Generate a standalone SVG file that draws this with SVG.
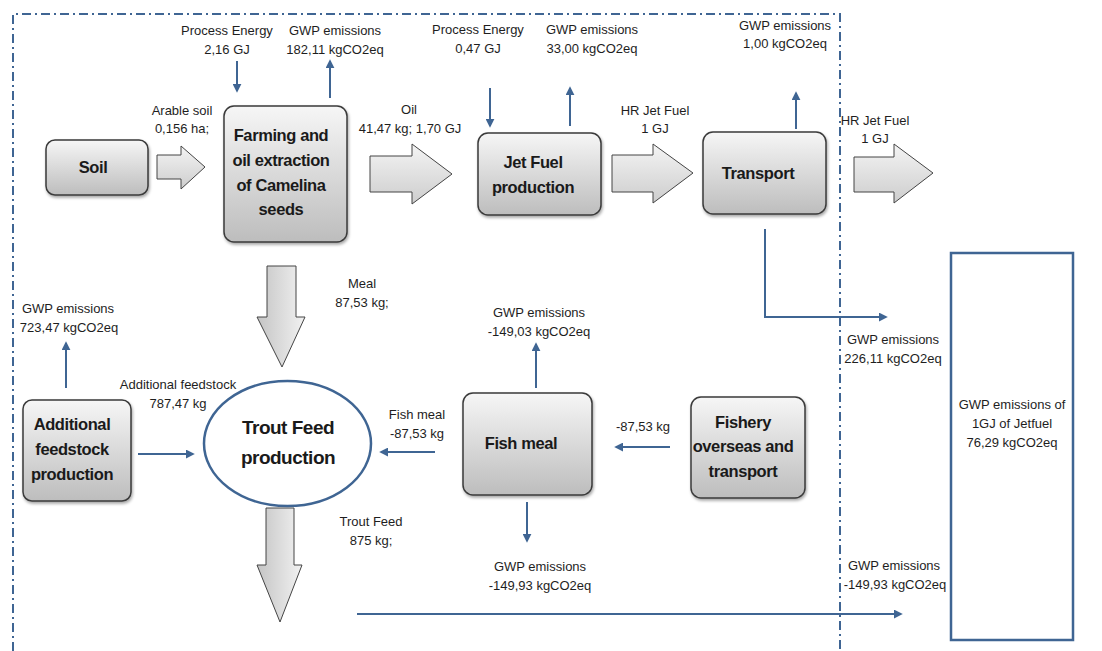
<svg xmlns="http://www.w3.org/2000/svg" width="1102" height="651" viewBox="0 0 1102 651">
  <defs>
    <linearGradient id="boxFill" x1="0" y1="0" x2="0" y2="1">
      <stop offset="0" stop-color="#f6f6f6"/>
      <stop offset="1" stop-color="#bdbdbd"/>
    </linearGradient>
    <linearGradient id="arrowFillH" x1="0" y1="0" x2="0" y2="1">
      <stop offset="0" stop-color="#f4f4f4"/>
      <stop offset="1" stop-color="#cdcdcd"/>
    </linearGradient>
    <linearGradient id="arrowFillV" x1="0" y1="0" x2="1" y2="0">
      <stop offset="0" stop-color="#c4c4c4"/>
      <stop offset="1" stop-color="#f2f2f2"/>
    </linearGradient>
    <filter id="shadow" x="-10%" y="-10%" width="125%" height="125%">
      <feDropShadow dx="1" dy="2" stdDeviation="1.5" flood-color="#000" flood-opacity="0.35"/>
    </filter>
    <marker id="head" viewBox="0 0 10 10" refX="8" refY="5" markerWidth="9" markerHeight="9" markerUnits="userSpaceOnUse" orient="auto">
      <path d="M0,0 L10,5 L0,10 z" fill="#3f6593"/>
    </marker>
    <style>
      .lbl { font-family: "Liberation Sans", Arial, sans-serif; font-size: 13px; fill: #1e1e1e; text-anchor: middle; }
      .box-t { font-family: "Liberation Sans", Arial, sans-serif; font-size: 16.5px; font-weight: bold; letter-spacing: -0.4px; fill: #1a1a1a; text-anchor: middle; }
      .big-t { font-family: "Liberation Sans", Arial, sans-serif; font-size: 19px; font-weight: bold; letter-spacing: -0.5px; fill: #1a1a1a; text-anchor: middle; }
      .box { fill: url(#boxFill); stroke: #3a3a3a; stroke-width: 1.5; filter: url(#shadow); }
      .blk-h { fill: url(#arrowFillH); stroke: #444; stroke-width: 1; }
      .blk-v { fill: url(#arrowFillV); stroke: #444; stroke-width: 1; }
      .flow { fill: none; stroke: #3f6593; stroke-width: 2; marker-end: url(#head); }
      .boundary { fill: none; stroke: #3f6593; stroke-width: 2; stroke-dasharray: 9 4 2 4; }
      .result { fill: #ffffff; stroke: #3f6593; stroke-width: 2.5; }
    </style>
  </defs>

  <rect width="1102" height="651" fill="#ffffff"/>

  <!-- system boundary (dash-dot, open at the bottom) -->
  <path class="boundary" d="M13,651 V14 H840 V651"/>

  <!-- connectors: block arrows and emission/energy flows -->
  <g id="connectors">
    <!-- block arrows for material flows -->
    <polygon class="blk-h" points="157,155 181,155 181,146 205,167 181,189 181,179 157,179"/>
    <polygon class="blk-h" points="370,156 412,156 412,144 452,174 412,204 412,192 370,192"/>
    <polygon class="blk-h" points="612,155 653,155 653,144 693,173 653,203 653,192 612,192"/>
    <polygon class="blk-h" points="854,157 894,157 894,144 933,173 894,203 894,192 854,192"/>
    <polygon class="blk-v" points="267,266 296,266 296,317 305,317 282,367 257,317 267,317"/>
    <polygon class="blk-v" points="266,508 294,508 294,565 302,565 280,622 257,565 266,565"/>

    <!-- energy inputs -->
    <line class="flow" x1="237" y1="61" x2="237" y2="91"/>
    <line class="flow" x1="490" y1="88" x2="490" y2="126"/>

    <!-- emission outputs -->
    <line class="flow" x1="330" y1="98" x2="330" y2="61"/>
    <line class="flow" x1="570" y1="126" x2="570" y2="88"/>
    <line class="flow" x1="796" y1="129" x2="796" y2="93"/>
    <line class="flow" x1="66" y1="388" x2="66" y2="343"/>
    <line class="flow" x1="536" y1="388" x2="536" y2="344"/>
    <line class="flow" x1="527" y1="502" x2="527" y2="541"/>

    <!-- feed flows -->
    <line class="flow" x1="138" y1="454" x2="193" y2="454"/>
    <line class="flow" x1="435" y1="452" x2="381" y2="452"/>
    <line class="flow" x1="670" y1="447" x2="616" y2="447"/>

    <!-- totals towards the result box -->
    <path class="flow" d="M765,229 V317 H886"/>
    <line class="flow" x1="357" y1="614" x2="901" y2="614"/>
  </g>

  <!-- process nodes -->
  <g id="soil">
    <rect class="box" x="46" y="140" width="102" height="55" rx="9"/>
    <text class="box-t" x="93" y="173">Soil</text>
  </g>

  <g id="farming">
    <rect class="box" x="224" y="106" width="123" height="136" rx="10"/>
    <text class="box-t" x="281" y="141">Farming and</text>
    <text class="box-t" x="281" y="166">oil extraction</text>
    <text class="box-t" x="281" y="191">of Camelina</text>
    <text class="box-t" x="281" y="215">seeds</text>
  </g>

  <g id="jetfuel">
    <rect class="box" x="478" y="133" width="123" height="82" rx="10"/>
    <text class="box-t" x="533" y="168">Jet Fuel</text>
    <text class="box-t" x="533" y="193">production</text>
  </g>

  <g id="transport">
    <rect class="box" x="703" y="132" width="123" height="82" rx="10"/>
    <text class="box-t" x="758" y="179">Transport</text>
  </g>

  <g id="additional">
    <rect class="box" x="23" y="400" width="108" height="101" rx="9"/>
    <text class="box-t" x="72" y="430">Additional</text>
    <text class="box-t" x="72" y="455">feedstock</text>
    <text class="box-t" x="72" y="480">production</text>
  </g>

  <g id="troutfeed">
    <ellipse cx="287.5" cy="443.5" rx="83.5" ry="62.5" fill="#ffffff" stroke="#3f6593" stroke-width="2.5"/>
    <text class="big-t" x="288" y="434">Trout Feed</text>
    <text class="big-t" x="288" y="464">production</text>
  </g>

  <g id="fishmeal">
    <rect class="box" x="463" y="393" width="129" height="102" rx="10"/>
    <text class="box-t" x="521" y="449">Fish meal</text>
  </g>

  <g id="fishery">
    <rect class="box" x="691" y="397" width="114" height="101" rx="10"/>
    <text class="box-t" x="743" y="428">Fishery</text>
    <text class="box-t" x="743" y="452">overseas and</text>
    <text class="box-t" x="743" y="477">transport</text>
  </g>

  <g id="result">
    <rect class="result" x="951" y="253" width="122" height="387"/>
    <text class="lbl" x="1012" y="408.5">GWP emissions of</text>
    <text class="lbl" x="1012" y="427.5">1GJ of Jetfuel</text>
    <text class="lbl" x="1012" y="446.5">76,29 kgCO2eq</text>
  </g>

  <!-- flow labels -->
  <g id="labels">
    <text class="lbl" x="227" y="34.5">Process Energy</text>
    <text class="lbl" x="227" y="53.5">2,16 GJ</text>
    <text class="lbl" x="335" y="34.5">GWP emissions</text>
    <text class="lbl" x="335" y="53.5">182,11 kgCO2eq</text>
    <text class="lbl" x="182" y="114.5">Arable soil</text>
    <text class="lbl" x="182" y="133">0,156 ha;</text>

    <text class="lbl" x="478" y="34">Process Energy</text>
    <text class="lbl" x="478" y="53">0,47 GJ</text>
    <text class="lbl" x="592" y="34">GWP emissions</text>
    <text class="lbl" x="592" y="53">33,00 kgCO2eq</text>
    <text class="lbl" x="409" y="113.5">Oil</text>
    <text class="lbl" x="410" y="132.5">41,47 kg; 1,70 GJ</text>
    <text class="lbl" x="655" y="114.5">HR Jet Fuel</text>
    <text class="lbl" x="655" y="133">1 GJ</text>

    <text class="lbl" x="785" y="29.5">GWP emissions</text>
    <text class="lbl" x="785" y="48">1,00 kgCO2eq</text>
    <text class="lbl" x="875" y="124.5">HR Jet Fuel</text>
    <text class="lbl" x="875" y="143">1 GJ</text>

    <text class="lbl" x="362" y="287.5">Meal</text>
    <text class="lbl" x="362" y="306.5">87,53 kg;</text>
    <text class="lbl" x="68" y="312.5">GWP emissions</text>
    <text class="lbl" x="69" y="332">723,47 kgCO2eq</text>
    <text class="lbl" x="178" y="388.5">Additional feedstock</text>
    <text class="lbl" x="178" y="407.5">787,47 kg</text>
    <text class="lbl" x="417" y="418.5">Fish meal</text>
    <text class="lbl" x="417" y="437.5">-87,53 kg</text>
    <text class="lbl" x="539" y="316.5">GWP emissions</text>
    <text class="lbl" x="539" y="336">-149,03 kgCO2eq</text>
    <text class="lbl" x="643" y="430.5">-87,53 kg</text>

    <text class="lbl" x="371" y="525.5">Trout Feed</text>
    <text class="lbl" x="371" y="544.5">875 kg;</text>
    <text class="lbl" x="540" y="570.5">GWP emissions</text>
    <text class="lbl" x="540" y="589.5">-149,93 kgCO2eq</text>

    <text class="lbl" x="893" y="343.5">GWP emissions</text>
    <text class="lbl" x="893" y="362.5">226,11 kgCO2eq</text>
    <text class="lbl" x="894" y="569.5">GWP emissions</text>
    <text class="lbl" x="895" y="588.5">-149,93 kgCO2eq</text>
  </g>
</svg>
